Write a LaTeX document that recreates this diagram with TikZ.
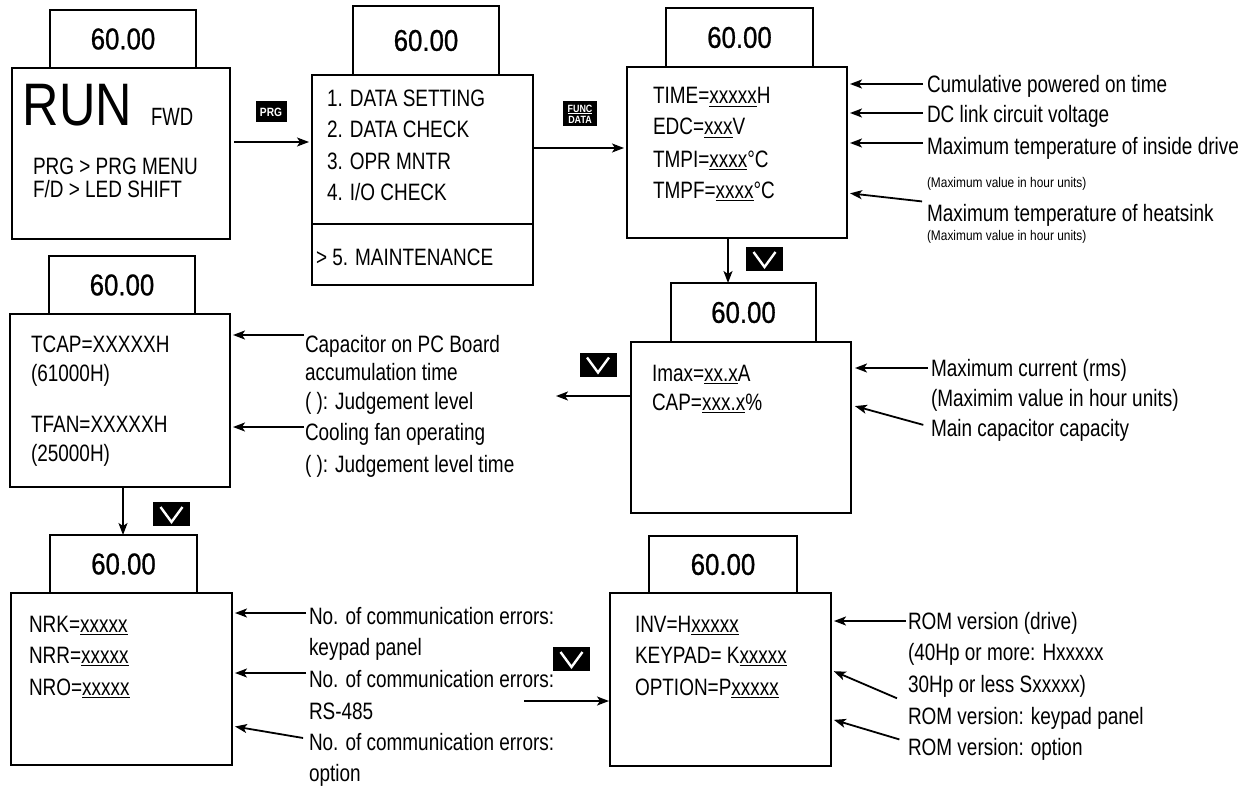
\documentclass[tikz,border=0pt]{standalone}
\usepackage{fontspec}
\setmainfont[FakeStretch=0.8]{Liberation Sans}
\newfontfamily\dispfont[FakeStretch=0.86,FakeBold=0.8]{Liberation Sans}
\newfontfamily\runfont[FakeStretch=0.84]{Liberation Sans}
\newfontfamily\narrowfont[FakeStretch=0.74]{Liberation Sans}
\newfontfamily\smallfont[FakeStretch=0.85]{Liberation Sans}
\newfontfamily\keyfont[FakeStretch=0.85]{Liberation Sans}
\usetikzlibrary{arrows.meta}
\newcommand\bodyfs{\fontsize{23.7}{28}\selectfont}
\newcommand\ulx[1]{\setbox0=\hbox{#1}\rlap{\rule[-2.8pt]{\wd0}{1.2pt}}\box0}
\begin{document}
\begin{tikzpicture}[x=1pt,y=-1pt,
  every node/.style={inner sep=0pt,outer sep=0pt},
  scr/.style={draw,line width=2pt,anchor=north west},
  disp/.style={draw,line width=2pt,anchor=north west,font=\dispfont\fontsize{30}{30}\selectfont},
  txt/.style={anchor=base west,font=\bodyfs},
  smalltxt/.style={anchor=base west,font=\smallfont\fontsize{14}{14}\selectfont},
  arr/.style={line width=1.8pt,-{Stealth[length=12pt,width=9pt,inset=3pt]},shorten >=3pt,shorten <=1pt},
  keybox/.style={fill=black,text=white,font=\keyfont\bfseries\fontsize{12}{12}\selectfont},
  vkey/.style={fill=black,minimum width=37pt,minimum height=24pt,
    path picture={\draw[white,line width=2.4pt]
      ([xshift=-11pt,yshift=7pt]path picture bounding box.center) --
      ([yshift=-8pt]path picture bounding box.center) --
      ([xshift=11pt,yshift=7pt]path picture bounding box.center);}}]
\useasboundingbox (0,0) rectangle (1247,789);

% ---------- Screen 1 ----------
\node[disp,minimum width=146pt,minimum height=58pt] (d1) at (50,10) {60.00};
\node[scr,minimum width=218pt,minimum height=171pt] (s1) at (12,68) {};
\node[anchor=base west,font=\runfont\fontsize{60}{60}\selectfont] (run) at (23,125) {RUN};
\node[anchor=base west,font=\narrowfont\fontsize{25}{25}\selectfont] (fwd) at (151,125) {FWD};
\node[txt] (m1) at (33,175) {PRG > PRG MENU};
\node[txt] (m2) at (33,197) {F/D > LED SHIFT};

% ---------- Screen 2 ----------
\node[disp,minimum width=146pt,minimum height=69pt] (d2) at (353,6) {60.00};
\node[scr,minimum width=221pt,minimum height=210pt] (s2) at (312,75) {};
\draw[line width=2pt] (s2.west |- 0,224) -- (s2.east |- 0,224);
\node[txt] (p1) at (327,107) {1. DATA SETTING};
\node[txt] (p2) at (327,138) {2. DATA CHECK};
\node[txt] (p3) at (327,169) {3. OPR MNTR};
\node[txt] (p4) at (327,200) {4. I/O CHECK};
\node[txt] (p5) at (316,265) {> 5. MAINTENANCE};

\node[keybox,minimum width=31pt,minimum height=21pt] (prg) at (271,112) {PRG};
\draw[arr,shorten <=4pt] (s1.east |- 0,142) -- (s2.west |- 0,142);

% ---------- Screen 3 ----------
\node[disp,minimum width=147pt,minimum height=59pt] (d3) at (666,8) {60.00};
\node[scr,minimum width=220pt,minimum height=171pt] (s3) at (627,67) {};
\node[txt] (q1) at (653,104) {TIME=\ulx{xxxxx}H};
\node[txt] (q2) at (653,135) {EDC=\ulx{xxx}V};
\node[txt] (q3) at (653,167) {TMPI=\ulx{xxxx}°C};
\node[txt] (q4) at (653,198) {TMPF=\ulx{xxxx}°C};

\node[keybox,minimum width=34pt,minimum height=25pt,align=center,
  font=\keyfont\bfseries\fontsize{10.5}{11}\selectfont] (fd) at (580,114) {\underline{FUNC}\\DATA};
\draw[arr] (s2.east |- 0,148) -- (s3.west |- 0,148);

\node[txt] (a1) at (927,93) {Cumulative powered on time};
\node[txt] (a2) at (927,123) {DC link circuit voltage};
\node[txt] (a3) at (927,154) {Maximum temperature of inside drive};
\node[smalltxt] (a4) at (927,187) {(Maximum value in hour units)};
\node[txt] (a5) at (927,221) {Maximum temperature of heatsink};
\node[smalltxt] (a6) at (927,240) {(Maximum value in hour units)};
\draw[arr,shorten <=4pt] (a1.west |- 0,84) -- (s3.east |- 0,84);
\draw[arr,shorten <=4pt] (a2.west |- 0,113) -- (s3.east |- 0,113);
\draw[arr,shorten <=4pt] (a3.west |- 0,143) -- (s3.east |- 0,143);
\draw[arr,shorten <=5pt] (a5.west |- 0,202) -- (s3.east |- 0,193);

% ---------- Screen 4 ----------
\node[disp,minimum width=145pt,minimum height=59pt] (d4) at (671,283) {60.00};
\node[scr,minimum width=220pt,minimum height=171pt] (s4) at (631,342) {};
\node[txt] (r1) at (652,381) {Imax=\ulx{xx.x}A};
\node[txt] (r2) at (652,410) {CAP=\ulx{xxx.x}\%};
\coordinate (x3) at (728,0);
\draw[arr,shorten <=0pt,shorten >=0pt] (s3.south -| x3) -- (d4.north -| x3);
\node[vkey] (v1) at (764.5,259) {};

\node[txt] (b1) at (931,376) {Maximum current (rms)};
\node[txt] (b2) at (931,406) {(Maximim value in hour units)};
\node[txt] (b3) at (931,436) {Main capacitor capacity};
\draw[arr,shorten <=3pt,shorten >=4pt] (b1.west |- 0,368) -- (s4.east |- 0,368);
\draw[arr,shorten <=8pt,shorten >=4pt] (b3.west |- 0,427) -- (s4.east |- 0,405);

\coordinate (lt) at (556,396);
\draw[arr,shorten <=0pt,shorten >=0pt] (s4.west |- lt) -- (lt);
\node[vkey] (v2) at (598,364.5) {};

% ---------- Screen 5 ----------
\node[disp,minimum width=146pt,minimum height=58pt] (d5) at (49,256) {60.00};
\node[scr,minimum width=220pt,minimum height=173pt] (s5) at (10,314) {};
\node[txt] (t1) at (31,352) {TCAP=XXXXXH};
\node[txt] (t2) at (31,381) {(61000H)};
\node[txt] (t3) at (31,432) {TFAN=XXXXXH};
\node[txt] (t4) at (31,461) {(25000H)};

\node[txt] (c1) at (305,352) {Capacitor on PC Board};
\node[txt] (c2) at (305,380) {accumulation time};
\node[txt] (c3) at (305,409) {( ): Judgement level};
\node[txt] (c4) at (305,440) {Cooling fan operating};
\node[txt] (c5) at (305,472) {( ): Judgement level time};
\draw[arr] (c1.west |- 0,335) -- (s5.east |- 0,335);
\draw[arr] (c4.west |- 0,427) -- (s5.east |- 0,427);

% ---------- Screen 6 ----------
\node[disp,minimum width=147pt,minimum height=58pt] (d6) at (50,535) {60.00};
\node[scr,minimum width=221pt,minimum height=172pt] (s6) at (11,593) {};
\coordinate (x5) at (123,0);
\draw[arr,shorten <=0pt,shorten >=0pt] (s5.south -| x5) -- (d6.north -| x5);
\node[vkey] (v3) at (171.5,514) {};
\node[txt] (n1) at (29,632) {NRK=\ulx{xxxxx}};
\node[txt] (n2) at (29,663) {NRR=\ulx{xxxxx}};
\node[txt] (n3) at (29,695) {NRO=\ulx{xxxxx}};

\node[txt] (e1) at (309,624) {No. of communication errors:};
\node[txt] (e2) at (309,655) {keypad panel};
\node[txt] (e3) at (309,687) {No. of communication errors:};
\node[txt] (e4) at (309,719) {RS-485};
\node[txt] (e5) at (309,750) {No. of communication errors:};
\node[txt] (e6) at (309,781) {option};
\draw[arr,shorten <=3pt] (e1.west |- 0,613) -- (s6.east |- 0,613);
\draw[arr,shorten <=3pt] (e3.west |- 0,673) -- (s6.east |- 0,673);
\draw[arr,shorten <=6pt] (e5.west |- 0,739) -- (s6.east |- 0,726);

% ---------- Screen 7 ----------
\node[disp,minimum width=148pt,minimum height=57pt] (d7) at (649,536) {60.00};
\node[scr,minimum width=221pt,minimum height=173pt] (s7) at (610,593) {};
\node[txt] (i1) at (635,632) {INV=H\ulx{xxxxx}};
\node[txt] (i2) at (635,663) {KEYPAD= K\ulx{xxxxx}};
\node[txt] (i3) at (635,695) {OPTION=P\ulx{xxxxx}};

\coordinate (st) at (524,701);
\draw[arr,shorten <=0pt,shorten >=1pt] (st) -- (s7.west |- st);
\node[vkey] (v4) at (571.5,659) {};

\node[txt] (o1) at (908,629) {ROM version (drive)};
\node[txt] (o2) at (908,660) {(40Hp or more: Hxxxxx};
\node[txt] (o3) at (908,692) {30Hp or less Sxxxxx)};
\node[txt] (o4) at (908,724) {ROM version: keypad panel};
\node[txt] (o5) at (908,755) {ROM version: option};
\draw[arr,shorten <=2pt] (o1.west |- 0,621) -- (s7.east |- 0,621);
\draw[arr,shorten <=12pt] (o4.west |- 0,703) -- (s7.east |- 0,670);
\draw[arr,shorten <=9pt] (o5.west |- 0,742) -- (s7.east |- 0,719);
\end{tikzpicture}
\end{document}
